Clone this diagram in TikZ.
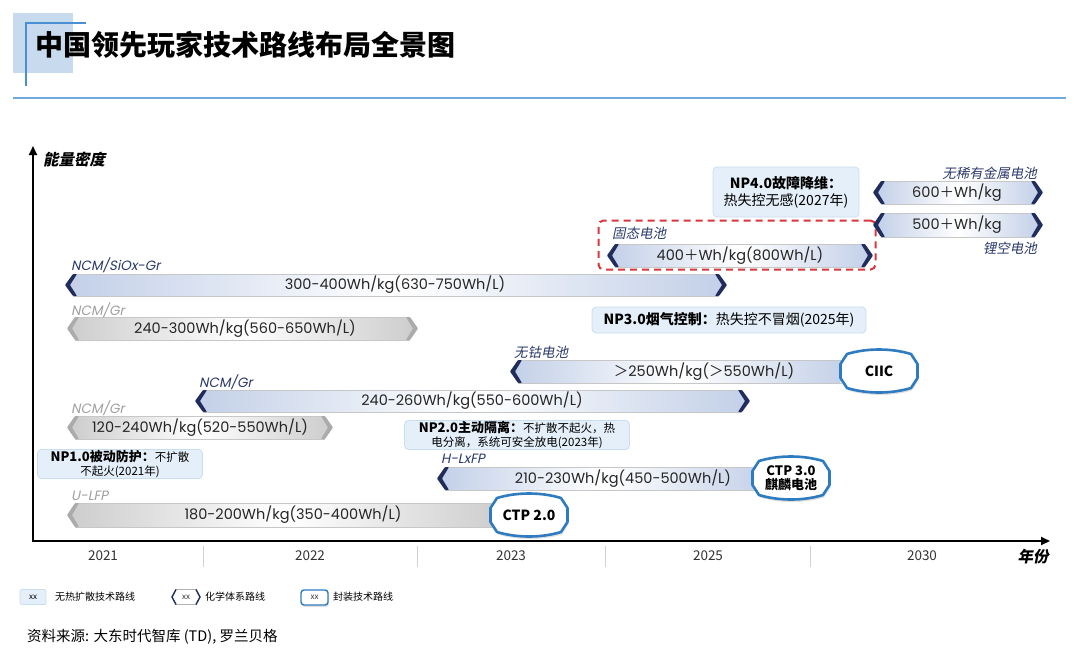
\documentclass[tikz,border=0pt]{standalone}
\usepackage{fontspec}
\setmainfont{Noto Sans CJK SC}
\newfontfamily\cjkit{Noto Sans CJK SC}[FakeSlant=0.2]
\newfontfamily\pop{Poppins}
\newfontfamily\popit{Poppins}[FakeSlant=0.2]
\usetikzlibrary{arrows.meta}
\definecolor{navy}{HTML}{1F2C5C}
\definecolor{chevgray}{HTML}{ABABAB}
\definecolor{barblue}{HTML}{C3D0E8}
\definecolor{bargray}{HTML}{CDCDCD}
\definecolor{npfill}{HTML}{E4EFF9}
\definecolor{npdraw}{HTML}{C9DDF0}
\definecolor{badgeblue}{HTML}{2E7BBF}
\definecolor{titleblue}{HTML}{4A8FD4}
\definecolor{titlelight}{HTML}{C8DAEE}
\definecolor{rulblue}{HTML}{6FA8DC}
\definecolor{labnavy}{HTML}{2C3A6B}
\definecolor{labgray}{HTML}{A0A0A0}
\definecolor{dashred}{HTML}{D9363E}
\newcommand{\fw}[1]{{\normalfont #1}}
\newcommand{\techbar}[8]{%
  \shade[#6] (#2+10,#4) -- (#3-10,#4) -- (#3-4,{(#4+#5)/2}) -- (#3-10,#5) -- (#2+10,#5) -- (#2+4,{(#4+#5)/2}) -- cycle;
  \draw[barline] (#2+8,#4) -- (#3-8,#4) (#2+8,#5) -- (#3-8,#5);
  \node[bartext] (#1) at (#7,{(#4+#5)/2}) {#8};
}
\newcommand{\lchev}[4]{\fill[#4, rounded corners=0.8pt] (#1+8,#2) -- (#1,{(#2+#3)/2}) -- (#1+8,#3) -- (#1+12,#3) -- (#1+5,{(#2+#3)/2}) -- (#1+12,#2) -- cycle;}
\newcommand{\rchev}[4]{\fill[#4, rounded corners=0.8pt] (#1-8,#2) -- (#1,{(#2+#3)/2}) -- (#1-8,#3) -- (#1-12,#3) -- (#1-5,{(#2+#3)/2}) -- (#1-12,#2) -- cycle;}
\newcommand{\badgeshape}[2]{%
  \begin{scope}[shift={(#1,#2)}]
    \fill[black!12, shift={(1,2.5)}] (-32,-17) .. controls (-12,-23) and (12,-23) .. (32,-17) -- (38.5,-7) -- (38.5,7) -- (32,17) .. controls (12,23) and (-12,23) .. (-32,17) -- (-38.5,7) -- (-38.5,-7) -- cycle;
    \draw[badge] (-32,-17) .. controls (-12,-23) and (12,-23) .. (32,-17) -- (38.5,-7) -- (38.5,7) -- (32,17) .. controls (12,23) and (-12,23) .. (-32,17) -- (-38.5,7) -- (-38.5,-7) -- cycle;
  \end{scope}
}
\begin{document}
\begin{tikzpicture}[x=1pt,y=-1pt,
  bluebar/.style={left color=barblue, right color=barblue, middle color=white},
  graybar/.style={left color=bargray, right color=bargray, middle color=white},
  barline/.style={draw=black!22, line width=0.6pt},
  bartext/.style={font=\pop\fontsize{14.5}{16}\selectfont, text=black!85, inner sep=0},
  lab/.style={font=\popit\fontsize{13.5}{15}\selectfont, inner sep=0, anchor=west, text=labnavy},
  glab/.style={lab, text=labgray},
  cjklab/.style={font=\cjkit\fontsize{13.5}{15}\selectfont, inner sep=0, text=labnavy},
  npbox/.style={draw=npdraw, fill=npfill, rounded corners=4pt, line width=0.8pt, align=center, inner sep=0},
  badge/.style={draw=badgeblue, line width=2.6pt, fill=white, line join=round},
  badgetext/.style={font=\bfseries\fontsize{14}{15}\selectfont, align=center, inner sep=0},
  yearlab/.style={font=\fontsize{13.5}{14}\selectfont, text=black!80, inner sep=0},
  sep/.style={draw=black!18, line width=0.8pt},
  axis/.style={line width=2pt, -{Triangle[length=9pt,width=8pt]}},
  legtext/.style={font=\fontsize{10}{11}\selectfont, anchor=west, inner sep=0},
  xxtext/.style={font=\fontsize{8}{9}\selectfont, inner sep=0, text=black!80}]
\useasboundingbox (0,0) rectangle (1080,670);
\fill[white] (0,0) rectangle (1080,670);

% title
\fill[titlelight] (13,13) rectangle (73,73);
\draw[titleblue, line width=2.5pt] (26,86) -- (26,23) -- (86,23);
\node[anchor=west, font=\bfseries\fontsize{28}{30}\selectfont, inner sep=0] (title) at (35,45) {中国领先玩家技术路线布局全景图};
\draw[rulblue, line width=1.4pt] (13,98) -- (1066,98);

% axes
\coordinate (origin) at (33,541);
\coordinate (ytip) at (33,146);
\coordinate (xtip) at (1050,541);
\draw[axis] ([yshift=-1pt]origin) -- (ytip);
\draw[axis] ([xshift=-1pt]origin) -- (xtip);
\node[anchor=west, font=\cjkit\bfseries\fontsize{15.5}{17}\selectfont, inner sep=0] (ylab) at (43,159) {能量密度};
\node[font=\cjkit\bfseries\fontsize{15.5}{17}\selectfont, inner sep=0] (xlab) at (1033,557) {年份};

\node[yearlab] (y2021) at (103,556) {2021};
\node[yearlab] (y2022) at (310,556) {2022};
\node[yearlab] (y2023) at (511,556) {2023};
\node[yearlab] (y2025) at (708,556) {2025};
\node[yearlab] (y2030) at (922,556) {2030};
\foreach \sx in {203,417,605,810} \draw[sep] (\sx,546) -- (\sx,567);

% NP4.0 box
\node[npbox, minimum width=146pt, minimum height=50pt, font=\fontsize{14}{17}\selectfont] (np4) at (786,192) {{\bfseries NP4.0故障降维：}\\热失控无感(2027年)};

% bars
\techbar{b1}{65}{727}{274}{296}{bluebar}{395}{300-400Wh/kg(630-750Wh/L)}
\lchev{65}{274}{296}{navy}\rchev{727}{274}{296}{navy}
\node[lab] (l1) at (71,265) {NCM/SiOx-Gr};

\techbar{b2}{67}{418}{317}{340}{graybar}{245}{240-300Wh/kg(560-650Wh/L)}
\lchev{67}{317}{340}{chevgray}\rchev{418}{317}{340}{chevgray}
\node[glab] (l2) at (71,310) {NCM/Gr};

\techbar{b3}{510}{850}{360}{383}{bluebar}{704}{\fw{＞}250Wh/kg(\fw{＞}550Wh/L)}
\lchev{510}{360}{383}{navy}
\node[cjklab, anchor=west] (l3) at (514,352) {无钴电池};
\badgeshape{879}{371}
\node[badgetext] (ciic) at (879,371) {CIIC};

\techbar{b4}{195}{750}{390}{412}{bluebar}{472}{240-260Wh/kg(550-600Wh/L)}
\lchev{195}{390}{412}{navy}\rchev{750}{390}{412}{navy}
\node[lab] (l4) at (199,382) {NCM/Gr};

\techbar{b5}{67}{333}{416}{439}{graybar}{200}{120-240Wh/kg(520-550Wh/L)}
\lchev{67}{416}{439}{chevgray}\rchev{333}{416}{439}{chevgray}
\node[glab] (l5) at (71,408) {NCM/Gr};

\techbar{b6}{437}{770}{467}{490}{bluebar}{623}{210-230Wh/kg(450-500Wh/L)}
\lchev{437}{467}{490}{navy}
\node[lab] (l6) at (441,459) {H-LxFP};
\badgeshape{791}{478}
\node[badgetext, font=\bfseries\fontsize{13}{13.5}\selectfont] (ctp3) at (791,478) {CTP 3.0\\麒麟电池};

\techbar{b7}{67}{505}{503}{527}{graybar}{293}{180-200Wh/kg(350-400Wh/L)}
\lchev{67}{503}{527}{chevgray}
\node[glab] (l7) at (71,496) {U-LFP};
\badgeshape{529}{515}
\node[badgetext] (ctp2) at (529,515) {CTP 2.0};

% solid-state
\techbar{b8}{607}{873}{244}{267}{bluebar}{740}{400\fw{＋}Wh/kg(800Wh/L)}
\lchev{607}{244}{267}{navy}\rchev{873}{244}{267}{navy}
\node[cjklab, anchor=west] (l8) at (612,233) {固态电池};
\node[draw=dashred, line width=2pt, dash pattern=on 7pt off 5pt, rounded corners=5pt, minimum width=277pt, minimum height=49pt, inner sep=0] (ssbox) at (737,245) {};

\techbar{b9}{873}{1043}{213}{237}{bluebar}{957}{500\fw{＋}Wh/kg}
\lchev{873}{213}{237}{navy}\rchev{1043}{213}{237}{navy}
\node[cjklab, anchor=east] (l9) at (1037,248) {锂空电池};

\techbar{b10}{873}{1043}{181}{204}{bluebar}{957}{600\fw{＋}Wh/kg}
\lchev{873}{181}{204}{navy}\rchev{1043}{181}{204}{navy}
\node[cjklab, anchor=east] (l10) at (1037,173) {无稀有金属电池};

% NP boxes
\node[npbox, minimum width=274pt, minimum height=26pt, font=\fontsize{14}{16}\selectfont] (np3) at (729,320) {{\bfseries NP3.0烟气控制：}热失控不冒烟(2025年)};
\node[npbox, minimum width=225pt, minimum height=29pt, font=\fontsize{11.5}{14.5}\selectfont] (np2) at (517,435) {{\fontsize{13}{14}\selectfont\bfseries NP2.0主动隔离：}不扩散不起火，热\\电分离，系统可安全放电(2023年)};
\node[npbox, minimum width=165pt, minimum height=29pt, font=\fontsize{11.5}{14.5}\selectfont] (np1) at (120,464) {{\fontsize{13}{14}\selectfont\bfseries NP1.0被动防护：}不扩散\\不起火(2021年)};

% legend
\node[npbox, rounded corners=2pt, minimum width=26pt, minimum height=15pt, font=\fontsize{8}{9}\selectfont] (leg1) at (33,597) {xx};
\node[legtext] (leg1t) at (55,597) {无热扩散技术路线};
\draw[black!30, line width=0.6pt, fill=white] (176,589.5) -- (196,589.5) -- (200,597) -- (196,604.5) -- (176,604.5) -- (172,597) -- cycle;
\draw[navy, line width=1.4pt] (176,589.5) -- (172,597) -- (176,604.5) (196,589.5) -- (200,597) -- (196,604.5);
\node[xxtext] (leg2) at (186,597) {xx};
\node[legtext] (leg2t) at (205,597) {化学体系路线};
\fill[black!12, rounded corners=3pt] (302,592) rectangle (329,607);
\draw[badgeblue, line width=1.4pt, rounded corners=3pt, fill=white] (301,590) rectangle (328,605);
\node[xxtext] (leg3) at (314.5,597.5) {xx};
\node[legtext] (leg3t) at (333,597) {封装技术路线};

% source
\node[anchor=west, font=\fontsize{14.5}{16}\selectfont, inner sep=0] (src) at (27,637) {资料来源: 大东时代智库 (TD), 罗兰贝格};
\end{tikzpicture}
\end{document}
